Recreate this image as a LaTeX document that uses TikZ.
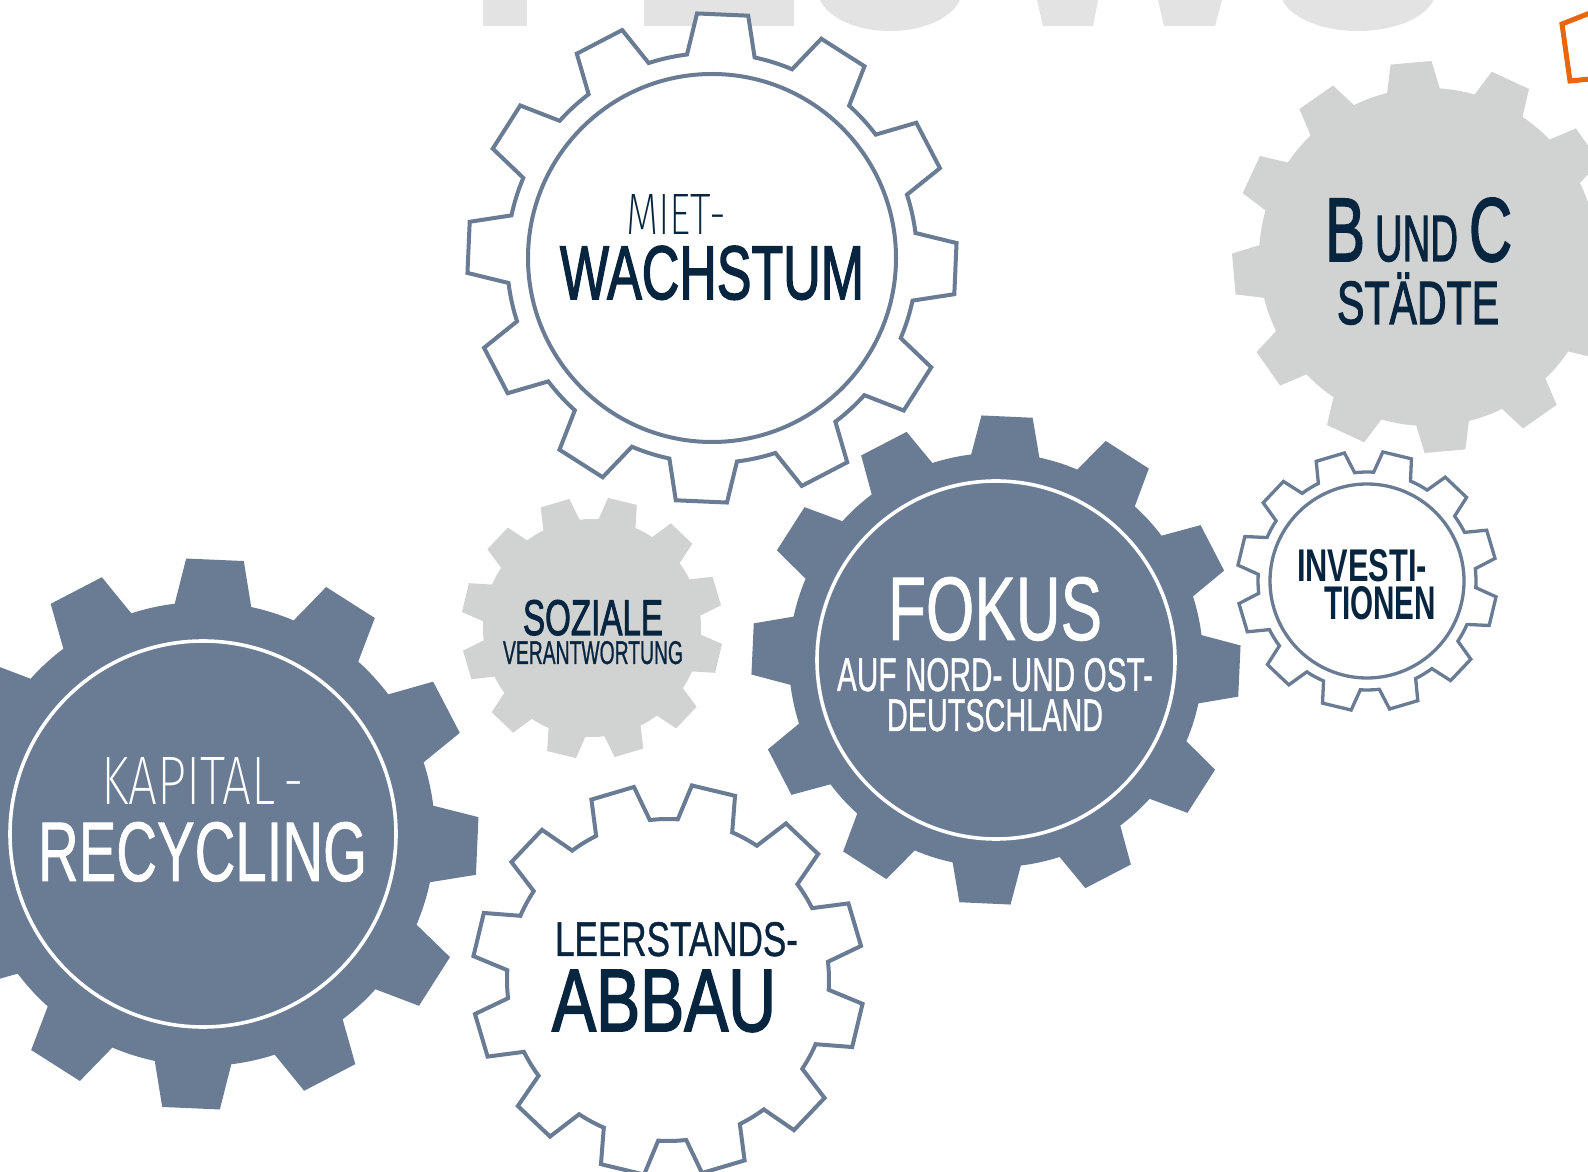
\documentclass[tikz,border=0pt]{standalone}
\usepackage{fontspec}
\usepackage{graphicx}
\setmainfont{Liberation Sans}
\newfontfamily\lightf{Fira Sans ExtraLight}
\newfontfamily\regf{Liberation Sans}[FakeBold=1]
\newfontfamily\medf{Liberation Sans}[FakeBold=2.2]
\newfontfamily\boldf{Liberation Sans Bold}
\definecolor{slate}{RGB}{106,123,148}
\definecolor{gearg}{RGB}{209,210,210}
\definecolor{navy}{RGB}{8,37,64}
\definecolor{letterg}{RGB}{227,227,227}
\definecolor{orng}{RGB}{232,102,13}
% #1 offset angle, #2 root radius, #3 tip radius, #4 base half angle, #5 tip half angle
\newcommand\gearshape[5]{({#1-#4}:#2)
  \foreach \k in {0,...,11}{
    -- ({#1+30*\k-#4}:#2) -- ({#1+30*\k-#5}:#3) -- ({#1+30*\k+#5}:#3) -- ({#1+30*\k+#4}:#2)
    arc[start angle={#1+30*\k+#4}, end angle={#1+30*\k+30-#4}, radius=#2 pt]
  } -- cycle}
\tikzset{
  outl/.style={draw=slate, fill=white, line width=4pt},
  solid gear/.style={fill=slate},
  grey gear/.style={fill=gearg},
  ring/.style={draw=white, line width=3.6pt},
  txt/.style={inner sep=0pt, outer sep=0pt, anchor=base west},
  letter/.style={fill=letterg}
}
\begin{document}
\begin{tikzpicture}[x=1pt,y=1pt]
\useasboundingbox (0,0) rectangle (1588,1171);
\clip (0,0) rectangle (1588,1171);
\fill[white] (0,0) rectangle (1588,1171);
% big background letters (cut at the top)
\fill[letter] (483,1171) rectangle (527,1145);
\fill[letter] (644,1171) rectangle (794,1145);
\fill[letter] (890,1181) ellipse[x radius=72, y radius=41];
\fill[letter] (1037,1171) -- (1098,1171) -- (1093,1145) -- (1043,1145) -- cycle;
\fill[letter] (1158,1171) -- (1222,1171) -- (1215,1145) -- (1164,1145) -- cycle;
\fill[letter] (1358,1181) ellipse[x radius=78, y radius=41];
% orange outline at top right
\draw[orng, line width=5pt] (1590,1158) -- (1562,1147) -- (1570,1090) -- (1590,1092);
% gear G: B und C (grey)
\begin{scope}[shift={(1428,914)}]
  \fill[grey gear] \gearshape{5}{169}{196}{9}{6};
\end{scope}
% gear E: soziale (grey)
\begin{scope}[shift={(592,543)}]
  \fill[grey gear] \gearshape{16.5}{109}{131}{10}{6.5};
\end{scope}
% gear A: Miet-Wachstum (outline)
\begin{scope}[shift={(712,913)}]
  \draw[outl] \gearshape{87.5}{205}{245}{9.5}{6};
  \draw[outl] (0,0) circle[radius=184pt];
\end{scope}
% gear D: Leerstands-Abbau (outline)
\begin{scope}[shift={(668,191)}]
  \draw[outl] \gearshape{16.5}{161}{196}{10}{6.5};
\end{scope}
% gear F: Investitionen (outline)
\begin{scope}[shift={(1367,590)}]
  \draw[outl, line width=3.3pt] \gearshape{16.5}{109}{130}{10}{6.5};
  \draw[outl, line width=3.3pt] (0,0) circle[radius=97pt];
\end{scope}
% gear B: Fokus (solid)
\begin{scope}[shift={(996,511)}]
  \fill[solid gear] \gearshape{87.4}{207}{245}{9.5}{6};
  \draw[ring] (0,0) circle[radius=179pt];
\end{scope}
% gear C: Kapital-Recycling (solid)
\begin{scope}[shift={(203,337)}]
  \fill[solid gear] \gearshape{87.5}{232}{276}{9.5}{6};
  \draw[ring] (0,0) circle[radius=193pt];
\end{scope}
% texts
\node[txt, text=navy] (miet) at (626,936) {\resizebox{100pt}{40pt}{\lightf MIET-}};
\node[txt, text=navy] (wachstum) at (560,872) {\resizebox{304pt}{53pt}{\medf WACHSTUM}};
\node[txt, text=navy] (soziale) at (523,536) {\resizebox{140pt}{35pt}{\medf SOZIALE}};
\node[txt, text=navy] (verantw) at (503,507) {\resizebox{180pt}{23pt}{\regf VERANTWORTUNG}};
\node[txt, text=white] (fokus) at (888,531) {\resizebox{214pt}{63pt}{\regf FOKUS}};
\node[txt, text=white] (nordost) at (837,480) {\resizebox{316pt}{33pt}{\regf AUF NORD- UND OST-}};
\node[txt, text=white] (deutschl) at (887,440) {\resizebox{216pt}{32pt}{\regf DEUTSCHLAND}};
\node[txt, text=navy] (investi) at (1297,589) {\resizebox{130pt}{32pt}{\boldf INVESTI-}};
\node[txt, text=navy] (tionen) at (1324,551) {\resizebox{112pt}{33pt}{\boldf TIONEN}};
\node[txt, text=navy] (bB) at (1325,910) {\resizebox{40pt}{62pt}{\medf B}};
\node[txt, text=navy] (bUND) at (1375,910) {\resizebox{83pt}{45pt}{\medf UND}};
\node[txt, text=navy] (bC) at (1469,910) {\resizebox{43pt}{63pt}{\medf C}};
\node[txt, text=navy] (staedte) at (1337,847) {\resizebox{162pt}{42pt}{\medf\vphantom{T}\smash{STÄDTE}}};
\node[txt, text=white] (kapital) at (101,366) {\resizebox{203pt}{47pt}{\lightf KAPITAL\kern0.15em-}};
\node[txt, text=white] (recycl) at (38,290) {\resizebox{329pt}{59pt}{\regf RECYCLING}};
\node[txt, text=navy] (leerst) at (555,215) {\resizebox{243pt}{34pt}{\regf LEERSTANDS-}};
\node[txt, text=navy] (abbau) at (552,140) {\resizebox{224pt}{61pt}{\medf ABBAU}};
\end{tikzpicture}
\end{document}
